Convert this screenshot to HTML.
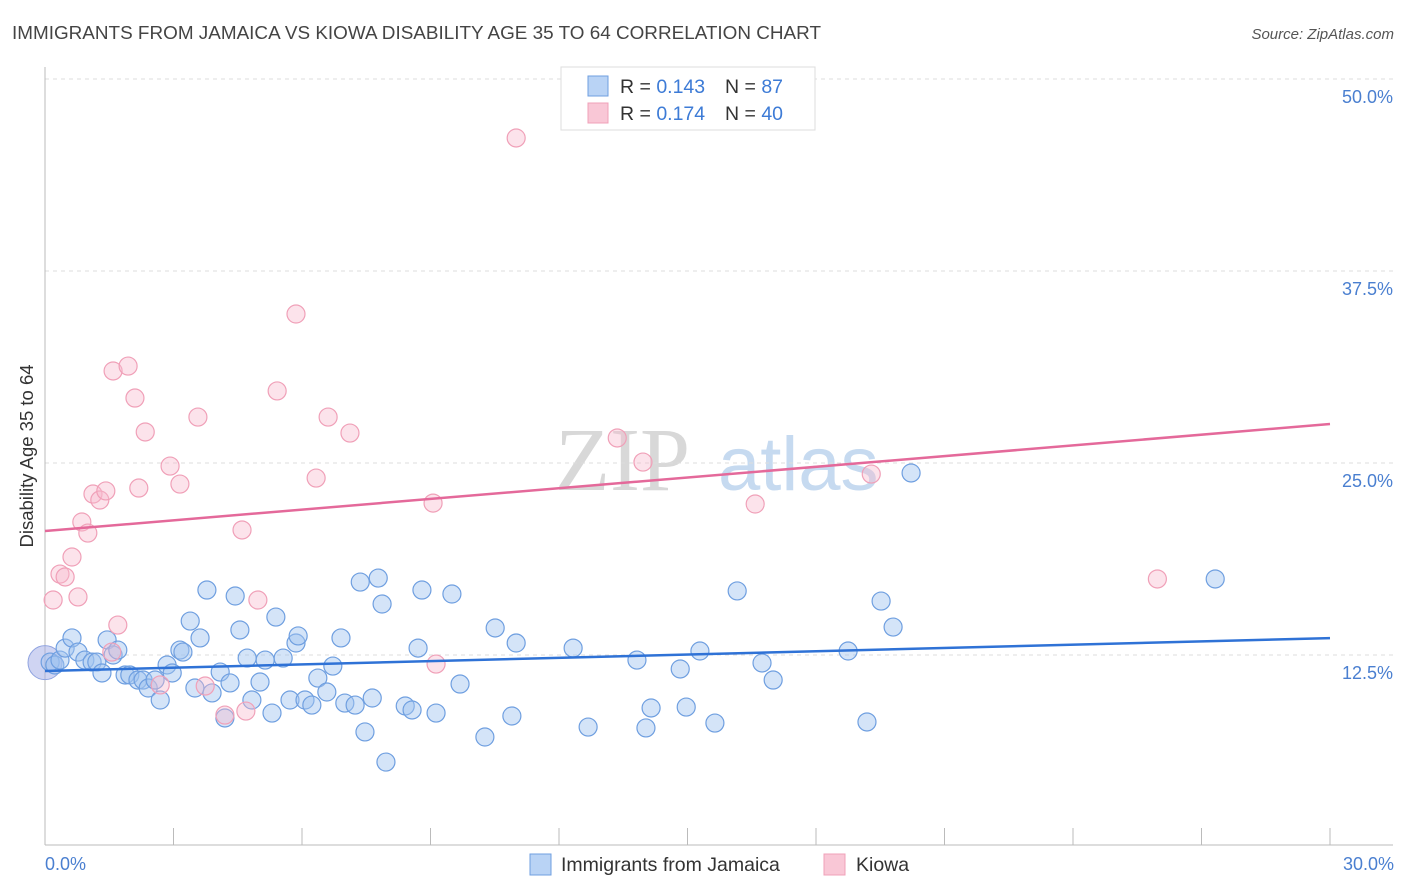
<!DOCTYPE html>
<html><head><meta charset="utf-8"><style>
body{margin:0;background:#fff;font-family:"Liberation Sans",sans-serif;}
svg{display:block}
</style></head><body>
<svg width="1406" height="892" font-family="Liberation Sans, sans-serif">
<text x="12" y="39" font-size="18" textLength="809" lengthAdjust="spacingAndGlyphs" fill="#444">IMMIGRANTS FROM JAMAICA VS KIOWA DISABILITY AGE 35 TO 64 CORRELATION CHART</text>
<text x="1394" y="39" font-size="15" fill="#555" text-anchor="end" font-style="italic">Source: ZipAtlas.com</text>
<g>
<text x="555" y="490" font-size="90" font-family="Liberation Serif, serif" fill="#d8d8d8">ZIP</text>
<text x="718" y="490" font-size="76" fill="#c6daf0">atlas</text>
</g>
<g id="grid"></g>
<g id="axes"></g>
<g id="pts"></g>
<g id="trends"></g>
<text transform="translate(33,456) rotate(-90)" font-size="18.5" fill="#333" text-anchor="middle">Disability Age 35 to 64</text>
<g>
<rect x="561" y="67" width="254" height="63" fill="#fff" stroke="#ddd"/>
<rect x="588" y="76" width="20" height="20" fill="#b9d3f5" stroke="#6f9fe0"/>
<rect x="588" y="103" width="20" height="20" fill="#f9c7d6" stroke="#f0a0b8"/>
<text x="620" y="93" font-size="19.5" fill="#333">R = <tspan fill="#3d7bd6">0.143</tspan></text>
<text x="725" y="93" font-size="19.5" fill="#333">N = <tspan fill="#3d7bd6"> 87</tspan></text>
<text x="620" y="120" font-size="19.5" fill="#333">R = <tspan fill="#3d7bd6">0.174</tspan></text>
<text x="725" y="120" font-size="19.5" fill="#333">N = <tspan fill="#3d7bd6"> 40</tspan></text>
</g>
<g>
<rect x="530" y="854" width="21" height="21" fill="#b9d3f5" stroke="#6f9fe0"/>
<text x="561" y="871" font-size="19.5" fill="#333">Immigrants from Jamaica</text>
<rect x="824" y="854" width="21" height="21" fill="#f9c7d6" stroke="#f0a0b8"/>
<text x="856" y="871" font-size="19.5" fill="#333">Kiowa</text>
</g>
</svg>
<script>
const yTicks=[12.5,25.0,37.5,50.0];
const xTickLabels=["0.0%","30.0%"];
const blueX=[0.12,0.23,0.35,0.47,0.63,0.77,0.93,1.10,1.21,1.33,1.45,1.59,1.70,1.87,1.98,2.17,2.29,2.41,2.57,2.69,2.85,2.97,3.15,3.22,3.39,3.50,3.62,3.78,3.90,4.09,4.20,4.32,4.44,4.55,4.72,4.83,5.02,5.14,5.30,5.39,5.56,5.72,5.86,5.91,6.07,6.23,6.37,6.58,6.72,6.91,7.00,7.24,7.36,7.47,7.64,7.78,7.87,7.96,8.41,8.57,8.71,8.80,9.13,9.50,9.69,10.27,10.51,10.90,11.00,12.33,12.68,13.82,14.03,14.15,14.83,14.97,15.29,15.64,16.16,16.74,17.00,18.75,19.19,19.52,19.80,20.22,27.32];
const blueY=[12.04,11.85,12.17,12.95,13.61,12.69,12.17,12.04,12.04,11.33,13.48,12.50,12.82,11.20,11.20,10.87,10.87,10.35,10.87,9.57,11.85,11.33,12.82,12.69,14.71,10.35,13.61,16.73,10.03,11.39,8.40,10.68,16.34,14.13,12.30,9.57,10.74,12.17,8.72,14.97,12.30,9.57,13.28,13.74,9.57,9.24,11.00,10.09,11.78,13.61,9.37,9.24,17.25,7.49,9.70,17.51,15.82,5.53,9.18,8.92,12.95,16.73,8.72,16.47,10.61,7.16,14.26,8.53,13.28,12.95,7.81,12.17,7.75,9.05,11.59,9.11,12.76,8.07,16.67,11.98,10.87,12.76,8.14,16.01,14.32,24.35,17.45];
const pinkX=[0.19,0.35,0.47,0.63,0.77,0.86,1.00,1.12,1.28,1.42,1.56,1.59,1.70,1.94,2.10,2.19,2.34,2.69,2.92,3.15,3.57,3.74,4.20,4.60,4.69,4.97,5.42,5.86,6.33,6.61,7.12,9.06,9.13,11.00,13.36,13.96,16.58,19.29,25.97];
const pinkY=[16.08,17.77,17.58,18.88,16.28,21.16,20.44,22.98,22.59,23.18,12.69,30.99,14.45,31.31,29.23,23.37,27.02,10.55,24.80,23.63,27.99,10.48,8.59,20.64,8.85,16.08,29.69,34.70,24.02,27.99,26.95,22.39,11.91,46.16,26.63,25.06,22.33,24.28,17.45];
const blueTrend=[11.46,13.6];
const pinkTrend=[20.57,27.54];
const NS="http://www.w3.org/2000/svg";
const X0=45,X1=1330,Y0=847;
function sx(v){return X0+(v/30)*(X1-X0);}
function sy(v){return Y0-v*(192/12.5);}
function mk(tag,attrs,parent){const e=document.createElementNS(NS,tag);for(const k in attrs)e.setAttribute(k,attrs[k]);parent.appendChild(e);return e;}
const grid=document.getElementById('grid'),axes=document.getElementById('axes');
yTicks.forEach(t=>{
 const l=mk('line',{x1:X0,x2:1393,y1:sy(t),y2:sy(t),stroke:'#ddd','stroke-dasharray':'4,4'},grid);
 
 
 const tx=mk('text',{x:1393,y:sy(t)+24,'font-size':18,fill:'#4a7fd0','text-anchor':'end'},axes);
 tx.textContent=t.toFixed(1)+'%';
 
 
});
const ya=mk('line',{x1:X0,x2:X0,y1:67,y2:845,stroke:'#bbb'},axes);


const xa=mk('line',{x1:X0,x2:1393,y1:845,y2:845,stroke:'#bbb'},axes);


for(let i=0;i<=10;i++){
 const t=mk('line',{x1:sx(i*3),x2:sx(i*3),y1:828,y2:845,stroke:'#bbb'},axes);
 
 
}
const xl0=mk('text',{x:45,y:870,'font-size':18,fill:'#4a7fd0'},axes);
xl0.textContent=xTickLabels[0];


const xl1=mk('text',{x:1394,y:870,'font-size':18,fill:'#4a7fd0','text-anchor':'end'},axes);
xl1.textContent=xTickLabels[1];


const pts=document.getElementById('pts');
const big=mk('circle',{cx:sx(0),cy:sy(12.0),r:17,fill:'rgba(160,170,230,0.5)',stroke:'#8fa3e0'},pts);


blueX.forEach((x,i)=>{
 const c=mk('circle',{cx:sx(x),cy:sy(blueY[i]),r:9,fill:'rgba(160,196,240,0.45)',stroke:'#6f9fe0','stroke-width':1.2},pts);
 
 
});
pinkX.forEach((x,i)=>{
 const c=mk('circle',{cx:sx(x),cy:sy(pinkY[i]),r:9,fill:'rgba(248,185,205,0.4)',stroke:'#f0a0b8','stroke-width':1.2},pts);
 
 
});
const tr=document.getElementById('trends');
const bl=mk('line',{x1:sx(0),x2:sx(30),y1:sy(blueTrend[0]),y2:sy(blueTrend[1]),stroke:'#2f72d6','stroke-width':2.5},tr);


const pl=mk('line',{x1:sx(0),x2:sx(30),y1:sy(pinkTrend[0]),y2:sy(pinkTrend[1]),stroke:'#e4699a','stroke-width':2.5},tr);


</script>
</body></html>
